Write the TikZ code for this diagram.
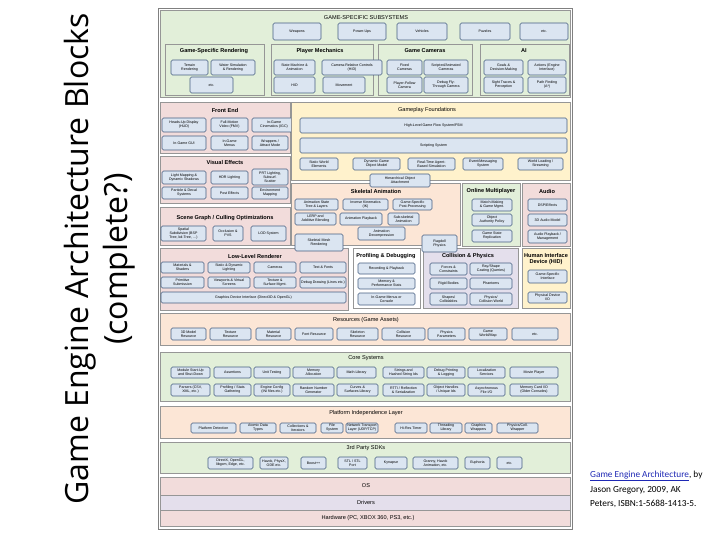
\documentclass[tikz,border=0pt]{standalone}
\usepackage{fontspec}
\setmainfont{Liberation Sans}
\newfontfamily\titlefont{Open Sans}
\newfontfamily\citefont{Carlito}
\usetikzlibrary{positioning}
\definecolor{cgreen}{RGB}{226,239,217}
\definecolor{cpink}{RGB}{242,220,219}
\definecolor{cpeach}{RGB}{252,230,214}
\definecolor{cyellow}{RGB}{255,242,204}
\definecolor{clav}{RGB}{228,223,236}
\definecolor{cwhite}{RGB}{255,255,255}
\definecolor{boxfill}{RGB}{219,229,241}
\definecolor{boxline}{RGB}{70,95,130}
\definecolor{secline}{RGB}{150,150,150}
\definecolor{linkblue}{RGB}{30,40,180}
\tikzset{
  bx/.style={draw=boxline,fill=boxfill,rounded corners=1.6pt,line width=0.55pt,
    align=center,inner sep=0.3pt,outer sep=0pt,font=\fontsize{3.6}{4.1}\selectfont},
  sec/.style={draw=secline,line width=0.5pt,inner sep=0pt,outer sep=0pt},
  grp/.style={draw=secline,line width=0.5pt,inner sep=0pt,outer sep=0pt},
  gt/.style={font=\bfseries\fontsize{5.6}{6.4}\selectfont,inner sep=0pt,align=center},
  lt/.style={font=\fontsize{5.6}{6.4}\selectfont,inner sep=0pt,align=center},
}
\newcommand\bx[6]{\node[bx,minimum width={(#4-#2)*1pt},minimum height={(#5-#3)*1pt}] (#1) at ({(#2+#4)/2},{(#3+#5)/2}) {#6};}
\newcommand\sect[6]{\node[sec,fill=#6,minimum width={(#4-#2)*1pt},minimum height={(#5-#3)*1pt}] (#1) at ({(#2+#4)/2},{(#3+#5)/2}) {};}
\newcommand\grp[6]{\node[grp,fill=#6,minimum width={(#4-#2)*1pt},minimum height={(#5-#3)*1pt}] (#1) at ({(#2+#4)/2},{(#3+#5)/2}) {};}
\begin{document}
\begin{tikzpicture}[x=1pt,y=-1pt]
\useasboundingbox (0,0) rectangle (720,540);
% title
\node[rotate=90,font=\titlefont\fontsize{32}{39}\selectfont,align=center,inner sep=0pt] (title) at (100,259) {Game Engine Architecture Blocks\\(complete?)};
% citation
\node[anchor=north west,font=\citefont\fontsize{9.3}{14.4}\selectfont,align=left,inner sep=0pt] (cite) at (590,471) {{\color{linkblue}\underline{Game Engine Architecture}}, by\\Jason Gregory, 2009, AK\\Peters, ISBN:1-5688-1413-5.};
% outer frame
\node[draw=gray,line width=0.6pt,minimum width=414pt,minimum height=521pt,inner sep=0pt] (frame) at (365,268.5) {};

% ---------- Game-specific subsystems ----------
\sect{gss}{160}{10}{570}{97}{cgreen}
\node[lt] (gss-t) at (366,18) {GAME-SPECIFIC SUBSYSTEMS};
\bx{weap}{273}{23}{321}{40}{Weapons}
\bx{pups}{338}{23}{386}{40}{Power-Ups}
\bx{veh}{397}{23}{447}{40}{Vehicles}
\bx{puz}{460}{23}{510}{40}{Puzzles}
\bx{getc}{520}{23}{568}{40}{etc.}
\grp{gsr}{165}{44}{264}{95}{cgreen}
\node[gt] (gsr-t) at (214,51) {Game-Specific Rendering};
\bx{terr}{171}{60}{208}{75}{Terrain\\Rendering}
\bx{water}{211}{60}{255}{75}{Water Simulation\\\& Rendering}
\bx{gsretc}{190}{77}{233}{93}{etc.}
\grp{pm}{271}{44}{373}{95}{cgreen}
\node[gt] (pm-t) at (320,51) {Player Mechanics};
\grp{gc}{378}{44}{472}{95}{cgreen}
\node[gt] (gc-t) at (425,51) {Game Cameras};
\bx{sm}{274}{60}{315}{75}{State Machine \&\\Animation}
\bx{crc}{322}{60}{382}{75}{Camera-Relative Controls\\(HID)}
\bx{phid}{274}{77}{315}{93}{HID}
\bx{move}{323}{77}{365}{93}{Movement}
\bx{fixc}{387}{60}{422}{75}{Fixed\\Cameras}
\bx{scrc}{424}{60}{468}{75}{Scripted/Animated\\Cameras}
\bx{pfc}{387}{77}{422}{93}{Player-Follow\\Camera}
\bx{dfc}{424}{77}{468}{93}{Debug Fly-\\Through Camera}
\grp{ai}{480}{44}{569}{95}{cgreen}
\node[gt] (ai-t) at (524,51) {AI};
\bx{goals}{484}{60}{523}{75}{Goals \&\\Decision-Making}
\bx{acts}{528}{60}{566}{75}{Actions (Engine\\Interface)}
\bx{sight}{484}{77}{523}{93}{Sight Traces \&\\Perception}
\bx{path}{528}{77}{566}{93}{Path Finding\\(A*)}

% ---------- Front End ----------
\sect{fe}{160}{102}{290}{153}{cpink}
\node[gt] (fe-t) at (225,110) {Front End};
\bx{hud}{162}{118}{206}{132}{Heads-Up Display\\(HUD)}
\bx{fmv}{211}{118}{248}{132}{Full-Motion\\Video (FMV)}
\bx{igc}{252}{118}{296}{132}{In-Game\\Cinematics (IGC)}
\bx{gui}{162}{136}{206}{150}{In-Game GUI}
\bx{menus}{211}{136}{248}{150}{In-Game\\Menus}
\bx{wrap}{252}{136}{288}{150}{Wrappers /\\Attract Mode}

% ---------- Visual Effects ----------
\sect{vfx}{160}{156}{290}{203}{cpink}
\node[gt] (vfx-t) at (225,162) {Visual Effects};
\bx{lmap}{162}{171}{206}{184}{Light Mapping \&\\Dynamic Shadows}
\bx{hdr}{211}{171}{248}{184}{HDR Lighting}
\bx{prt}{252}{169}{288}{185}{PRT Lighting,\\Subsurf.\\Scatter}
\bx{part}{162}{187}{206}{199}{Particle \& Decal\\Systems}
\bx{post}{211}{187}{248}{199}{Post Effects}
\bx{env}{252}{187}{288}{199}{Environment\\Mapping}

% ---------- Scene Graph ----------
\sect{sg}{160}{207}{290}{245}{cpink}
\node[gt] (sg-t) at (225,218) {Scene Graph / Culling Optimizations};
\bx{spat}{161}{226}{206}{241}{Spatial\\Subdivision (BSP\\Tree, kd-Tree, \dots)}
\bx{occ}{213}{226}{243}{241}{Occlusion \&\\PVS}
\bx{lod}{251}{226}{286}{241}{LOD System}

% ---------- Gameplay Foundations ----------
\sect{gf}{291}{102}{570}{180}{cyellow}
\node[lt] (gf-t) at (427,110) {Gameplay Foundations};
\bx{flow}{300}{118}{567}{133}{High-Level Game Flow System/FSM}
\bx{script}{300}{138}{567}{153}{Scripting System}
\bx{static}{300}{158}{338}{170}{Static World\\Elements}
\bx{dyn}{353}{158}{400}{170}{Dynamic Game\\Object Model}
\bx{rtabs}{408}{158}{455}{170}{Real-Time Agent-\\Based Simulation}
\bx{event}{463}{158}{503}{170}{Event/Messaging\\System}
\bx{world}{518}{158}{563}{170}{World Loading /\\Streaming}

% ---------- Skeletal Animation ----------
\sect{skel}{291}{183}{460}{245}{cpeach}
\node[gt] (skel-t) at (376,191) {Skeletal Animation};
\bx{hier}{370}{174}{430}{187}{Hierarchical Object\\Attachment}
\bx{astate}{295}{199}{338}{210}{Animation State\\Tree \& Layers}
\bx{ik}{343}{199}{388}{210}{Inverse Kinematics\\(IK)}
\bx{gspp}{393}{199}{432}{210}{Game-Specific\\Post-Processing}
\bx{lerp}{295}{213}{336}{225}{LERP and\\Additive Blending}
\bx{aplay}{340}{213}{382}{225}{Animation Playback}
\bx{subskel}{388}{213}{419}{225}{Sub-skeletal\\Animation}
\bx{adec}{358}{227}{405}{240}{Animation\\Decompression}

% ---------- Online Multiplayer ----------
\sect{om}{462}{183}{520}{246}{cgreen}
\node[gt] (om-t) at (491,191) {Online Multiplayer};
\bx{match}{472}{199}{512}{211}{Match-Making\\\& Game Mgmt.}
\bx{auth}{472}{214}{512}{226}{Object\\Authority Policy}
\bx{repl}{472}{230}{512}{242}{Game State\\Replication}

% ---------- Audio ----------
\sect{aud}{522}{183}{570}{246}{cpink}
\node[gt] (aud-t) at (547,191) {Audio};
\bx{dsp}{528}{199}{567}{211}{DSP/Effects}
\bx{a3d}{528}{214}{567}{226}{3D Audio Model}
\bx{aplayb}{528}{230}{567}{243}{Audio Playback /\\Management}

% ---------- Low-Level Renderer ----------
\sect{llr}{160}{248}{348}{310}{cpink}
\node[gt] (llr-t) at (255,256) {Low-Level Renderer};
\bx{mat}{161}{262}{204}{273}{Materials \&\\Shaders}
\bx{sdl}{208}{262}{250}{273}{Static \& Dynamic\\Lighting}
\bx{cams}{254}{262}{296}{273}{Cameras}
\bx{text}{300}{262}{346}{273}{Text \& Fonts}
\bx{prim}{161}{277}{204}{288}{Primitive\\Submission}
\bx{vp}{208}{277}{250}{288}{Viewports \& Virtual\\Screens}
\bx{tex}{254}{277}{296}{288}{Texture \&\\Surface Mgmt.}
\bx{dbg}{300}{277}{346}{288}{Debug Drawing (Lines etc.)}
\bx{gdi}{161}{292}{346}{303}{Graphics Device Interface (Direct3D \& OpenGL)}
\bx{skmesh}{295}{234}{343}{251}{Skeletal Mesh\\Rendering}

% ---------- Profiling & Debugging ----------
\sect{prof}{353}{248}{420}{308}{cwhite}
\node[gt] (prof-t) at (386,256) {Profiling \& Debugging};
\bx{rec}{358}{263}{415}{274}{Recording \& Playback}
\bx{mem}{358}{278}{415}{289}{Memory \&\\Performance Stats}
\bx{cons}{358}{293}{415}{305}{In-Game Menus or\\Console}

% ---------- Collision & Physics ----------
\sect{cp}{423}{248}{518}{308}{clav}
\node[gt] (cp-t) at (468,256) {Collision \& Physics};
\bx{force}{430}{263}{467}{275}{Forces \&\\Constraints}
\bx{ray}{470}{263}{512}{275}{Ray/Shape\\Casting (Queries)}
\bx{rigid}{430}{278}{467}{289}{Rigid Bodies}
\bx{phant}{470}{278}{512}{289}{Phantoms}
\bx{shapes}{430}{293}{467}{305}{Shapes/\\Collidables}
\bx{pworld}{470}{293}{512}{305}{Physics/\\Collision World}
\bx{rag}{422}{235}{457}{252}{Ragdoll\\Physics}

% ---------- HID ----------
\sect{hid}{522}{248}{570}{308}{cyellow}
\node[gt] (hid-t) at (546,259) {Human Interface\\Device (HID)};
\bx{gsi}{528}{270}{567}{283}{Game-Specific\\Interface}
\bx{pdio}{528}{292}{567}{303}{Physical Device\\I/O}

% ---------- Resources ----------
\sect{res}{160}{313}{570}{345}{cpeach}
\node[lt] (res-t) at (366,320) {Resources (Game Assets)};
\bx{r3d}{171}{328}{206}{340}{3D Model\\Resource}
\bx{rtex}{210}{328}{251}{340}{Texture\\Resource}
\bx{rmat}{256}{328}{291}{340}{Material\\Resource}
\bx{rfont}{295}{328}{333}{340}{Font Resource}
\bx{rskel}{337}{328}{378}{340}{Skeleton\\Resource}
\bx{rcol}{382}{328}{425}{340}{Collision\\Resource}
\bx{rphys}{428}{328}{465}{340}{Physics\\Parameters}
\bx{rgw}{469}{328}{507}{340}{Game\\World/Map}
\bx{retc}{512}{328}{558}{340}{etc.}

% ---------- Core Systems ----------
\sect{core}{160}{352}{570}{401}{cgreen}
\node[lt] (core-t) at (366,358) {Core Systems};
\bx{mod}{171}{367}{210}{378}{Module Start-Up\\and Shut-Down}
\bx{assert}{214}{367}{251}{378}{Assertions}
\bx{unit}{254}{367}{290}{378}{Unit Testing}
\bx{malloc}{293}{367}{334}{378}{Memory\\Allocation}
\bx{math}{337}{367}{376}{378}{Math Library}
\bx{str}{383}{367}{424}{378}{Strings and\\Hashed String Ids}
\bx{dprint}{427}{367}{465}{378}{Debug Printing\\\& Logging}
\bx{loc}{468}{367}{505}{378}{Localization\\Services}
\bx{movie}{510}{367}{558}{378}{Movie Player}
\bx{pars}{171}{384}{210}{396}{Parsers (CSV,\\XML, etc.)}
\bx{pstat}{214}{384}{251}{396}{Profiling / Stats\\Gathering}
\bx{cfg}{254}{384}{290}{396}{Engine Config\\(INI files etc.)}
\bx{rng}{293}{384}{334}{396}{Random Number\\Generator}
\bx{curv}{337}{384}{378}{396}{Curves \&\\Surfaces Library}
\bx{rtti}{383}{384}{424}{396}{RTTI / Reflection\\\& Serialization}
\bx{ohnd}{427}{384}{465}{396}{Object Handles\\/ Unique Ids}
\bx{async}{468}{384}{505}{396}{Asynchronous\\File I/O}
\bx{mcard}{510}{384}{558}{396}{Memory Card I/O\\(Older Consoles)}

% ---------- Platform Independence ----------
\sect{pil}{160}{406}{570}{438}{cpeach}
\node[lt] (pil-t) at (366,413) {Platform Independence Layer};
\bx{pdet}{191}{423}{236}{433}{Platform Detection}
\bx{atom}{240}{423}{276}{433}{Atomic Data\\Types}
\bx{coll}{280}{423}{316}{433}{Collections \&\\Iterators}
\bx{fs}{321}{423}{343}{433}{File\\System}
\bx{net}{346}{423}{378}{433}{Network Transport\\Layer (UDP/TCP)}
\bx{timer}{395}{423}{427}{433}{Hi-Res Timer}
\bx{thr}{430}{423}{462}{433}{Threading\\Library}
\bx{gwrap}{465}{423}{492}{433}{Graphics\\Wrappers}
\bx{pwrap}{497}{423}{538}{433}{Physics/Coll.\\Wrapper}

% ---------- 3rd Party SDKs ----------
\sect{sdk}{160}{442}{570}{473}{cgreen}
\node[lt] (sdk-t) at (366,448) {3rd Party SDKs};
\bx{dx}{208}{457}{253}{469}{DirectX, OpenGL,\\libgcm, Edge, etc.}
\bx{hav}{260}{457}{288}{469}{Havok, PhysX,\\ODE etc.}
\bx{boost}{301}{457}{326}{469}{Boost++}
\bx{stl}{338}{457}{367}{469}{STL / STL\\Port}
\bx{kyn}{375}{457}{407}{469}{Kynapse}
\bx{gran}{413}{457}{458}{469}{Granny, Havok\\Animation, etc.}
\bx{euph}{465}{457}{490}{469}{Euphoria}
\bx{sdketc}{497}{457}{522}{469}{etc.}

% ---------- OS / Drivers / Hardware ----------
\sect{os}{160}{477}{570}{495}{cpink}
\node[lt] (os-t) at (366,486) {OS};
\sect{drv}{160}{495}{570}{510}{clav}
\node[lt] (drv-t) at (366,502.5) {Drivers};
\sect{hw}{160}{510}{570}{526}{cpink}
\node[lt] (hw-t) at (368,518) {Hardware (PC, XBOX 360, PS3, etc.)};
\end{tikzpicture}
\end{document}
